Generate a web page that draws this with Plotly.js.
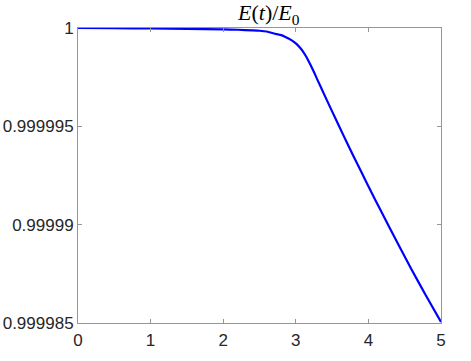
<!DOCTYPE html>
<html>
<head>
<meta charset="utf-8">
<script src="https://cdn.plot.ly/plotly-3.0.1.min.js"></script>
<style>html,body{margin:0;padding:0;background:#fff;}#chart{width:471px;height:361px;}</style>
</head>
<body>
<div id="chart"></div>
<script>
// time values
const t = [0, 0.5, 1, 1.5, 2, 2.2, 2.4, 2.5, 2.6, 2.7, 2.8, 2.85, 2.9, 2.95, 3.0, 3.05, 3.1, 3.15, 3.2, 3.25, 3.3,
  3.4, 3.5, 3.6, 3.7, 3.8, 3.9, 4.0, 4.1, 4.2, 4.4, 4.6, 4.8, 5.0];
// E(t)/E0 values
const energyRatio = [1.0, 0.99999999, 0.999999975, 0.999999955, 0.99999993, 0.99999991, 0.99999988, 0.99999986, 0.99999982, 0.99999972,
  0.99999964, 0.99999956, 0.99999947, 0.99999936, 0.99999922, 0.99999903, 0.9999988, 0.9999985, 0.99999814, 0.99999776, 0.99999735,
  0.99999655, 0.99999576, 0.99999498, 0.9999942, 0.99999344, 0.9999927, 0.99999195, 0.99999122, 0.9999905, 0.99998908, 0.99998768,
  0.99998635, 0.99998505];
const xTicks = [0, 1, 2, 3, 4, 5];
const xTickText = ['0', '1', '2', '3', '4', '5'];
const yTicks = [0.999985, 0.99999, 0.999995, 1];
const yTickText = ['0.999985', '0.99999', '0.999995', '1'];

const axisCol = 'rgb(150,150,150)';
const font = {family: 'Liberation Sans, Arial, sans-serif', size: 17, color: '#262626'};

Plotly.newPlot('chart', [{
  x: t, y: energyRatio, type: 'scatter', mode: 'lines',
  line: {color: '#0000ff', width: 2.2, shape: 'spline', smoothing: 0.5}, hoverinfo: 'skip'
}], {
  width: 471, height: 361,
  margin: {l: 78, r: 30, t: 28, b: 38, pad: 0},
  paper_bgcolor: '#fff', plot_bgcolor: '#fff',
  showlegend: false,
  font: font,
  annotations: [{text: '<i>E</i>(<i>t</i>)/<i>E</i><sub>0</sub>', xref: 'paper', yref: 'paper', x: 0.526, y: 1.047,
    xanchor: 'center', yanchor: 'middle', showarrow: false,
    font: {family: 'Liberation Serif, Times New Roman, serif', size: 22, color: '#000'}}],
  xaxis: {range: [0, 5], tickvals: xTicks, ticktext: xTickText, showgrid: false, zeroline: false,
    showline: true, linecolor: axisCol, linewidth: 1, mirror: 'ticks', ticks: 'inside', ticklen: 4,
    tickcolor: axisCol, tickfont: font, ticklabelstandoff: 2, fixedrange: true},
  yaxis: {range: [0.999985, 1], tickvals: yTicks, ticktext: yTickText, showgrid: false, zeroline: false,
    showline: true, linecolor: axisCol, linewidth: 1, mirror: 'ticks', ticks: 'inside', ticklen: 4,
    tickcolor: axisCol, tickfont: font, fixedrange: true}
}, {staticPlot: true, displayModeBar: false});
</script>
</body>
</html>
